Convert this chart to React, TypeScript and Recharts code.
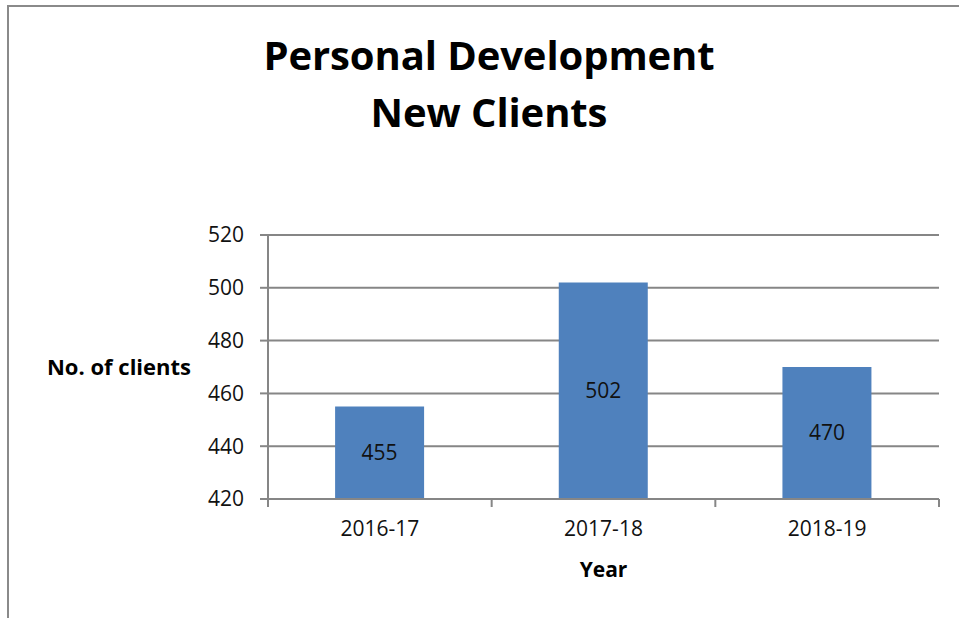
import React from "react";
import {
  BarChart,
  Bar,
  XAxis,
  YAxis,
  CartesianGrid,
  LabelList,
  Label,
} from "recharts";

const years = ["2016-17", "2017-18", "2018-19"];
const newClients = [455, 502, 470];
const yTicks = [420, 440, 460, 480, 500, 520];

const data = years.map((year, i) => ({ year, clients: newClients[i] }));

const FONT = "'Open Sans', Lato, sans-serif";
const AXIS = "#868686";
const X_TICK_MARGIN = 22;
const X_TICK_LEN = 8;

function CategoryTick(props: any) {
  const { x, y, payload, index, visibleTicksCount, width } = props;
  const band = width / visibleTicksCount;
  const axisY = y - X_TICK_MARGIN;
  const left = x - band / 2;
  const right = x + band / 2;
  const isLast = index === visibleTicksCount - 1;
  return (
    <g>
      <line x1={left} x2={left} y1={axisY} y2={axisY + X_TICK_LEN} stroke={AXIS} strokeWidth={2} />
      {isLast && (
        <line x1={right} x2={right} y1={axisY} y2={axisY + X_TICK_LEN} stroke={AXIS} strokeWidth={2} />
      )}
      <text
        x={x}
        y={y}
        dy="0.71em"
        textAnchor="middle"
        fill="#111"
        fontSize={21}
        fontFamily={FONT}
      >
        {payload.value}
      </text>
    </g>
  );
}

export default function App() {
  return (
    <div
      style={{
        position: "absolute",
        left: 0,
        top: 0,
        width: 959,
        height: 618,
        overflow: "hidden",
        background: "#fff",
        fontFamily: FONT,
      }}
    >
      <div
        style={{
          position: "absolute",
          left: 7,
          top: 5,
          width: 1000,
          height: 700,
          borderTop: "2px solid #8a8a8a",
          borderLeft: "2px solid #8a8a8a",
        }}
      />
      <div
        style={{
          position: "absolute",
          left: 0,
          top: 26,
          width: 978,
          textAlign: "center",
          fontWeight: 700,
          fontSize: 40,
          lineHeight: "57px",
          color: "#000",
          letterSpacing: -0.1,
        }}
      >
        Personal Development
        <br />
        New Clients
      </div>
      <div style={{ position: "absolute", left: 0, top: 0 }}>
        <BarChart
          width={959}
          height={618}
          data={data}
          margin={{ top: 235, right: 20, bottom: 29, left: 208 }}
          barCategoryGap="30%"
        >
          <CartesianGrid vertical={false} stroke={AXIS} strokeWidth={2} />
          <XAxis
            dataKey="year"
            height={90}
            tickLine={false}
            tickSize={0}
            axisLine={{ stroke: AXIS, strokeWidth: 2 }}
            tick={<CategoryTick />}
            tickMargin={X_TICK_MARGIN}
            interval={0}
          >
            <Label
              value="Year"
              position="insideBottom"
              offset={12}
              style={{ fontWeight: 700, fontSize: 21, fill: "#000", fontFamily: FONT }}
            />
          </XAxis>
          <YAxis
            width={60}
            domain={[420, 520]}
            ticks={yTicks}
            allowDataOverflow
            tickSize={8}
            tickMargin={16}
            tickLine={{ stroke: AXIS, strokeWidth: 2 }}
            axisLine={{ stroke: AXIS, strokeWidth: 2 }}
            tick={{ fill: "#111", fontSize: 21, fontFamily: FONT }}
          >
            <Label
              value="No. of clients"
              position="left"
              offset={17}
              angle={0}
              style={{ fontWeight: 700, fontSize: 22, fill: "#000", fontFamily: FONT, textAnchor: "end" }}
            />
          </YAxis>
          <Bar dataKey="clients" fill="#4F81BD" isAnimationActive={false}>
            <LabelList
              dataKey="clients"
              position="center"
              style={{ fill: "#111", fontSize: 21, fontFamily: FONT }}
            />
          </Bar>
        </BarChart>
      </div>
    </div>
  );
}
